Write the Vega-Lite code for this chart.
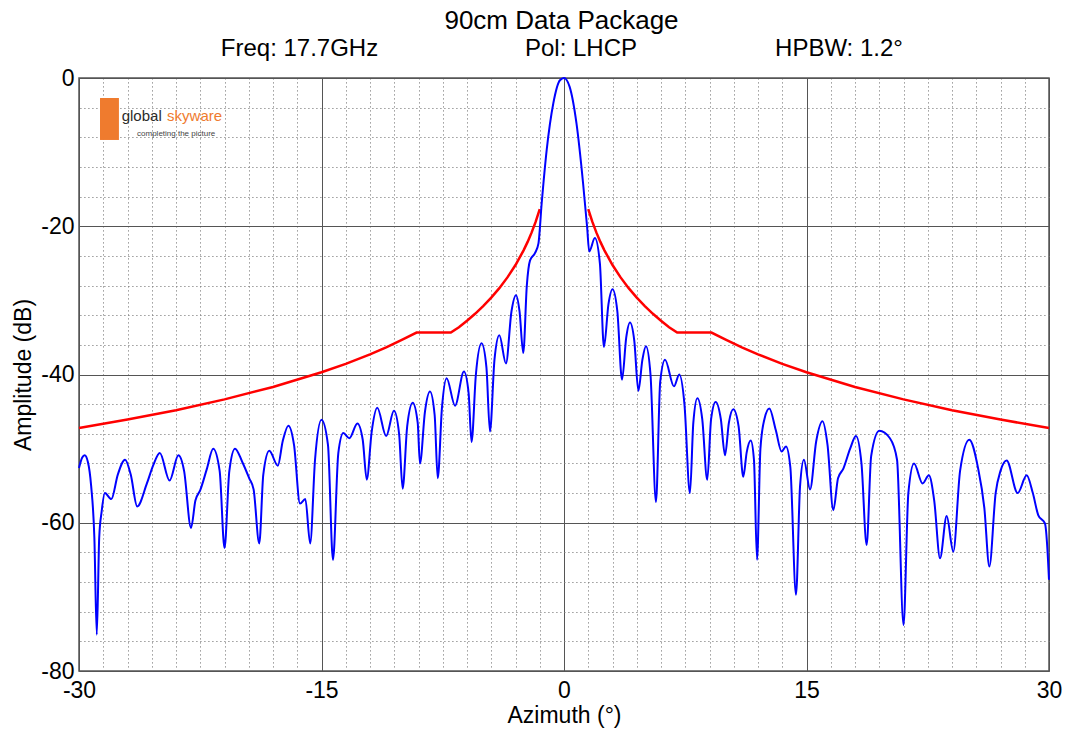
{
  "$schema": "https://vega.github.io/schema/vega-lite/v6.json",
  "width": 970,
  "height": 593,
  "autosize": {"type": "none"},
  "padding": {"left": 79, "top": 78, "right": 22, "bottom": 58},
  "background": "white",
  "config": {
    "font": "Liberation Sans",
    "view": {"stroke": "#555555", "strokeWidth": 1.5},
    "axis": {
      "labelFont": "Liberation Sans",
      "titleFont": "Liberation Sans",
      "labelFontSize": 23,
      "titleFontSize": 23,
      "titleFontWeight": "normal",
      "labelColor": "black",
      "titleColor": "black",
      "ticks": false,
      "tickSize": 0,
      "domain": false,
      "labelFlush": false,
      "labelOverlap": false
    }
  },
  "datasets": {
    "pattern": [
      {"az": -30.0, "amp": -52.6}, {"az": -29.8, "amp": -51.2}, {"az": -29.65, "amp": -50.9}, {"az": -29.45, "amp": -51.8},
      {"az": -29.25, "amp": -55.0}, {"az": -29.05, "amp": -62.0}, {"az": -28.9, "amp": -75.1}, {"az": -28.75, "amp": -62.0},
      {"az": -28.6, "amp": -58.5}, {"az": -28.4, "amp": -56.0}, {"az": -28.0, "amp": -56.8}, {"az": -27.6, "amp": -53.5},
      {"az": -27.15, "amp": -51.5}, {"az": -26.8, "amp": -53.5}, {"az": -26.4, "amp": -57.8}, {"az": -25.8, "amp": -54.7},
      {"az": -25.4, "amp": -52.2}, {"az": -25.0, "amp": -50.6}, {"az": -24.4, "amp": -54.3}, {"az": -23.85, "amp": -50.9},
      {"az": -23.5, "amp": -53.0}, {"az": -23.07, "amp": -60.7}, {"az": -22.8, "amp": -57.0}, {"az": -22.5, "amp": -55.6},
      {"az": -22.1, "amp": -52.8}, {"az": -21.7, "amp": -50.0}, {"az": -21.3, "amp": -53.0}, {"az": -21.0, "amp": -63.4},
      {"az": -20.7, "amp": -53.0}, {"az": -20.35, "amp": -50.0}, {"az": -19.9, "amp": -51.8}, {"az": -19.47, "amp": -54.0},
      {"az": -19.2, "amp": -55.5}, {"az": -18.85, "amp": -62.8}, {"az": -18.6, "amp": -53.5}, {"az": -18.23, "amp": -50.3},
      {"az": -17.7, "amp": -52.3}, {"az": -17.4, "amp": -49.0}, {"az": -17.05, "amp": -46.9}, {"az": -16.7, "amp": -49.5},
      {"az": -16.33, "amp": -57.4}, {"az": -16.0, "amp": -56.8}, {"az": -15.7, "amp": -62.8}, {"az": -15.4, "amp": -51.5},
      {"az": -15.0, "amp": -46.1}, {"az": -14.6, "amp": -49.5}, {"az": -14.29, "amp": -65.0}, {"az": -13.96, "amp": -50.6},
      {"az": -13.65, "amp": -47.9}, {"az": -13.28, "amp": -48.6}, {"az": -12.78, "amp": -46.6}, {"az": -12.45, "amp": -48.8},
      {"az": -12.2, "amp": -54.2}, {"az": -11.9, "amp": -47.8}, {"az": -11.55, "amp": -44.5}, {"az": -11.0, "amp": -48.3},
      {"az": -10.52, "amp": -44.9}, {"az": -10.2, "amp": -48.0}, {"az": -9.98, "amp": -55.4}, {"az": -9.7, "amp": -47.0},
      {"az": -9.36, "amp": -43.8}, {"az": -9.05, "amp": -46.5}, {"az": -8.91, "amp": -52.0}, {"az": -8.6, "amp": -45.0},
      {"az": -8.29, "amp": -42.3}, {"az": -8.0, "amp": -45.5}, {"az": -7.81, "amp": -54.0}, {"az": -7.55, "amp": -44.5},
      {"az": -7.26, "amp": -40.5}, {"az": -6.74, "amp": -44.2}, {"az": -6.19, "amp": -39.6}, {"az": -5.9, "amp": -42.5},
      {"az": -5.72, "amp": -49.1}, {"az": -5.45, "amp": -40.0}, {"az": -5.1, "amp": -35.8}, {"az": -4.8, "amp": -39.0},
      {"az": -4.58, "amp": -47.7}, {"az": -4.3, "amp": -38.0}, {"az": -4.0, "amp": -34.7}, {"az": -3.59, "amp": -38.5},
      {"az": -3.25, "amp": -31.5}, {"az": -2.97, "amp": -29.3}, {"az": -2.75, "amp": -31.5}, {"az": -2.52, "amp": -37.1},
      {"az": -2.3, "amp": -28.0}, {"az": -2.1, "amp": -24.6}, {"az": -1.79, "amp": -23.6}, {"az": -1.58, "amp": -22.3},
      {"az": -1.38, "amp": -16.9}, {"az": -1.07, "amp": -9.7}, {"az": -0.66, "amp": -3.4}, {"az": -0.25, "amp": -0.3},
      {"az": 0.0, "amp": 0.0}, {"az": 0.35, "amp": -1.2}, {"az": 0.77, "amp": -6.1}, {"az": 1.18, "amp": -14.2},
      {"az": 1.43, "amp": -20.1}, {"az": 1.56, "amp": -23.4}, {"az": 1.91, "amp": -21.6}, {"az": 2.22, "amp": -25.0},
      {"az": 2.47, "amp": -36.3}, {"az": 2.75, "amp": -30.5}, {"az": 3.0, "amp": -28.5}, {"az": 3.3, "amp": -31.5},
      {"az": 3.59, "amp": -40.7}, {"az": 3.85, "amp": -35.0}, {"az": 4.08, "amp": -33.0}, {"az": 4.35, "amp": -35.5},
      {"az": 4.6, "amp": -42.2}, {"az": 4.85, "amp": -38.0}, {"az": 5.07, "amp": -36.2}, {"az": 5.35, "amp": -40.0},
      {"az": 5.69, "amp": -57.2}, {"az": 5.95, "amp": -41.0}, {"az": 6.25, "amp": -38.0}, {"az": 6.8, "amp": -41.6},
      {"az": 7.13, "amp": -40.0}, {"az": 7.45, "amp": -44.0}, {"az": 7.79, "amp": -56.0}, {"az": 8.0, "amp": -46.5},
      {"az": 8.25, "amp": -43.2}, {"az": 8.55, "amp": -46.0}, {"az": 8.86, "amp": -54.2}, {"az": 9.1, "amp": -46.0},
      {"az": 9.38, "amp": -43.7}, {"az": 9.7, "amp": -46.0}, {"az": 9.96, "amp": -50.9}, {"az": 10.2, "amp": -46.5},
      {"az": 10.47, "amp": -44.7}, {"az": 10.8, "amp": -47.0}, {"az": 11.09, "amp": -53.8}, {"az": 11.3, "amp": -50.5},
      {"az": 11.55, "amp": -48.9}, {"az": 11.75, "amp": -51.5}, {"az": 11.94, "amp": -65.0}, {"az": 12.15, "amp": -50.0},
      {"az": 12.4, "amp": -46.0}, {"az": 12.7, "amp": -44.6}, {"az": 13.1, "amp": -47.5}, {"az": 13.46, "amp": -50.4},
      {"az": 13.73, "amp": -49.7}, {"az": 14.0, "amp": -52.5}, {"az": 14.35, "amp": -69.7}, {"az": 14.6, "amp": -55.1},
      {"az": 14.84, "amp": -51.5}, {"az": 15.22, "amp": -55.5}, {"az": 15.6, "amp": -49.0}, {"az": 15.99, "amp": -46.3},
      {"az": 16.3, "amp": -49.5}, {"az": 16.66, "amp": -58.3}, {"az": 16.95, "amp": -54.0}, {"az": 17.28, "amp": -52.7},
      {"az": 17.7, "amp": -50.0}, {"az": 18.06, "amp": -48.3}, {"az": 18.4, "amp": -52.0}, {"az": 18.72, "amp": -63.0},
      {"az": 19.0, "amp": -51.0}, {"az": 19.5, "amp": -47.6}, {"az": 20.16, "amp": -48.6}, {"az": 20.6, "amp": -51.5},
      {"az": 21.0, "amp": -73.8}, {"az": 21.3, "amp": -56.0}, {"az": 21.65, "amp": -52.0}, {"az": 22.18, "amp": -54.7},
      {"az": 22.57, "amp": -53.6}, {"az": 22.9, "amp": -57.0}, {"az": 23.26, "amp": -64.8}, {"az": 23.67, "amp": -59.1},
      {"az": 24.08, "amp": -63.9}, {"az": 24.5, "amp": -53.0}, {"az": 25.07, "amp": -48.8}, {"az": 25.6, "amp": -52.5},
      {"az": 26.0, "amp": -58.0}, {"az": 26.31, "amp": -65.9}, {"az": 26.7, "amp": -56.0}, {"az": 27.0, "amp": -53.0},
      {"az": 27.38, "amp": -51.6}, {"az": 28.06, "amp": -56.0}, {"az": 28.62, "amp": -53.6}, {"az": 29.0, "amp": -56.0},
      {"az": 29.34, "amp": -59.0}, {"az": 29.75, "amp": -60.1}, {"az": 29.9, "amp": -63.5}, {"az": 30.0, "amp": -67.7}
    ],
    "mask": [
      {"side": "L", "az": -30, "amp": -47.23}, {"side": "L", "az": -27, "amp": -46.08}, {"side": "L", "az": -24, "amp": -44.81},
      {"side": "L", "az": -21, "amp": -43.36}, {"side": "L", "az": -18, "amp": -41.68}, {"side": "L", "az": -15, "amp": -39.7},
      {"side": "L", "az": -13.5, "amp": -38.56}, {"side": "L", "az": -12, "amp": -37.28}, {"side": "L", "az": -11, "amp": -36.33},
      {"side": "L", "az": -10, "amp": -35.3}, {"side": "L", "az": -9.12, "amp": -34.35}, {"side": "L", "az": -7, "amp": -34.35},
      {"side": "L", "az": -6.5, "amp": -33.62}, {"side": "L", "az": -6, "amp": -32.75}, {"side": "L", "az": -5.5, "amp": -31.81},
      {"side": "L", "az": -5, "amp": -30.77}, {"side": "L", "az": -4.5, "amp": -29.63}, {"side": "L", "az": -4, "amp": -28.35},
      {"side": "L", "az": -3.5, "amp": -26.9}, {"side": "L", "az": -3, "amp": -25.23}, {"side": "L", "az": -2.5, "amp": -23.25},
      {"side": "L", "az": -2.25, "amp": -22.11}, {"side": "L", "az": -2, "amp": -20.83}, {"side": "L", "az": -1.75, "amp": -19.38},
      {"side": "L", "az": -1.5, "amp": -17.7},
      {"side": "R", "az": 1.5, "amp": -17.7}, {"side": "R", "az": 1.75, "amp": -19.38}, {"side": "R", "az": 2, "amp": -20.83},
      {"side": "R", "az": 2.25, "amp": -22.11}, {"side": "R", "az": 2.5, "amp": -23.25}, {"side": "R", "az": 3, "amp": -25.23},
      {"side": "R", "az": 3.5, "amp": -26.9}, {"side": "R", "az": 4, "amp": -28.35}, {"side": "R", "az": 4.5, "amp": -29.63},
      {"side": "R", "az": 5, "amp": -30.77}, {"side": "R", "az": 5.5, "amp": -31.81}, {"side": "R", "az": 6, "amp": -32.75},
      {"side": "R", "az": 6.5, "amp": -33.62}, {"side": "R", "az": 7, "amp": -34.35}, {"side": "R", "az": 9.12, "amp": -34.35},
      {"side": "R", "az": 10, "amp": -35.3}, {"side": "R", "az": 11, "amp": -36.33}, {"side": "R", "az": 12, "amp": -37.28},
      {"side": "R", "az": 13.5, "amp": -38.56}, {"side": "R", "az": 15, "amp": -39.7}, {"side": "R", "az": 18, "amp": -41.68},
      {"side": "R", "az": 21, "amp": -43.36}, {"side": "R", "az": 24, "amp": -44.81}, {"side": "R", "az": 27, "amp": -46.08},
      {"side": "R", "az": 30, "amp": -47.23}
    ],
    "annotations": [
      {"group": "title", "label": "90cm Data Package", "az": -0.155, "amp": 6.57},
      {"group": "sub", "label": "Freq: 17.7GHz", "az": -16.36, "amp": 2.97},
      {"group": "sub", "label": "Pol: LHCP", "az": 1.05, "amp": 2.97},
      {"group": "sub", "label": "HPBW: 1.2°", "az": 17.01, "amp": 2.97},
      {"group": "logo1", "label": "global", "az": -27.36, "amp": -5.8},
      {"group": "logo2", "label": "skyware", "az": -24.55, "amp": -5.8},
      {"group": "logo3", "label": "completing the picture", "az": -26.41, "amp": -7.85}
    ],
    "logobox": [
      {"az": -28.7, "az2": -27.53, "amp": -2.7, "amp2": -8.36}
    ]
  },
  "layer": [
    {
      "data": {"name": "mask"},
      "mark": {"type": "line", "color": "#ff0000", "strokeWidth": 2.5},
      "encoding": {
        "x": {
          "field": "az", "type": "quantitative",
          "scale": {"domain": [-30, 30], "nice": false, "zero": false},
          "axis": {
            "values": [-30, -15, 0, 15, 30],
            "grid": true, "gridColor": "#555555", "gridWidth": 1,
            "labelPadding": 8,
            "labelExpr": "replace(datum.label, '\u2212', '-')",
            "title": "Azimuth (°)", "titlePadding": 2
          }
        },
        "y": {
          "field": "amp", "type": "quantitative",
          "scale": {"domain": [-80, 0], "nice": false, "zero": false},
          "axis": {
            "values": [-80, -60, -40, -20, 0],
            "grid": true, "gridColor": "#555555", "gridWidth": 1,
            "labelPadding": 5,
            "labelExpr": "replace(datum.label, '\u2212', '-')",
            "title": "Amplitude (dB)", "titlePadding": 5
          }
        },
        "detail": {"field": "side", "type": "nominal"}
      }
    },
    {
      "data": {"name": "pattern"},
      "mark": {"type": "line", "color": "#0000ff", "strokeWidth": 2, "interpolate": "monotone"},
      "encoding": {
        "x": {
          "field": "az", "type": "quantitative",
          "scale": {"domain": [-30, 30], "nice": false, "zero": false},
          "axis": {
            "orient": "top",
            "values": [-28.5, -27, -25.5, -24, -22.5, -21, -19.5, -18, -16.5, -13.5, -12, -10.5, -9, -7.5, -6, -4.5, -3, -1.5, 1.5, 3, 4.5, 6, 7.5, 9, 10.5, 12, 13.5, 16.5, 18, 19.5, 21, 22.5, 24, 25.5, 27, 28.5],
            "grid": true, "gridColor": "#808080", "gridWidth": 1, "gridDash": [1.2, 2.8],
            "labels": false, "title": null
          }
        },
        "y": {
          "field": "amp", "type": "quantitative",
          "scale": {"domain": [-80, 0], "nice": false, "zero": false},
          "axis": {
            "orient": "right",
            "values": [-76, -72, -68, -64, -56, -52, -48, -44, -36, -32, -28, -24, -16, -12, -8, -4],
            "grid": true, "gridColor": "#808080", "gridWidth": 1, "gridDash": [1.2, 2.8],
            "labels": false, "title": null
          }
        }
      }
    },
    {
      "data": {"name": "logobox"},
      "mark": {"type": "rect", "color": "#ef7b2e"},
      "encoding": {
        "x": {"field": "az", "type": "quantitative", "scale": {"domain": [-30, 30], "nice": false, "zero": false}, "axis": null},
        "x2": {"field": "az2"},
        "y": {"field": "amp", "type": "quantitative", "scale": {"domain": [-80, 0], "nice": false, "zero": false}, "axis": null},
        "y2": {"field": "amp2"}
      }
    },
    {
      "data": {"name": "annotations"},
      "transform": [{"filter": "datum.group == 'title'"}],
      "mark": {"type": "text", "font": "Liberation Sans", "fontSize": 26, "align": "center", "baseline": "alphabetic", "color": "black"},
      "encoding": {
        "x": {"field": "az", "type": "quantitative", "scale": {"domain": [-30, 30], "nice": false, "zero": false}, "axis": null},
        "y": {"field": "amp", "type": "quantitative", "scale": {"domain": [-80, 0], "nice": false, "zero": false}, "axis": null},
        "text": {"field": "label"}
      }
    },
    {
      "data": {"name": "annotations"},
      "transform": [{"filter": "datum.group == 'sub'"}],
      "mark": {"type": "text", "font": "Liberation Sans", "fontSize": 24, "align": "center", "baseline": "alphabetic", "color": "black"},
      "encoding": {
        "x": {"field": "az", "type": "quantitative", "scale": {"domain": [-30, 30], "nice": false, "zero": false}, "axis": null},
        "y": {"field": "amp", "type": "quantitative", "scale": {"domain": [-80, 0], "nice": false, "zero": false}, "axis": null},
        "text": {"field": "label"}
      }
    },
    {
      "data": {"name": "annotations"},
      "transform": [{"filter": "datum.group == 'logo1'"}],
      "mark": {"type": "text", "font": "Liberation Sans", "fontSize": 15, "align": "left", "baseline": "alphabetic", "color": "#2b2b2b"},
      "encoding": {
        "x": {"field": "az", "type": "quantitative", "scale": {"domain": [-30, 30], "nice": false, "zero": false}, "axis": null},
        "y": {"field": "amp", "type": "quantitative", "scale": {"domain": [-80, 0], "nice": false, "zero": false}, "axis": null},
        "text": {"field": "label"}
      }
    },
    {
      "data": {"name": "annotations"},
      "transform": [{"filter": "datum.group == 'logo2'"}],
      "mark": {"type": "text", "font": "Liberation Sans", "fontSize": 15, "align": "left", "baseline": "alphabetic", "color": "#ef7b2e"},
      "encoding": {
        "x": {"field": "az", "type": "quantitative", "scale": {"domain": [-30, 30], "nice": false, "zero": false}, "axis": null},
        "y": {"field": "amp", "type": "quantitative", "scale": {"domain": [-80, 0], "nice": false, "zero": false}, "axis": null},
        "text": {"field": "label"}
      }
    },
    {
      "data": {"name": "annotations"},
      "transform": [{"filter": "datum.group == 'logo3'"}],
      "mark": {"type": "text", "font": "Liberation Sans", "fontSize": 8, "align": "left", "baseline": "alphabetic", "color": "#444444"},
      "encoding": {
        "x": {"field": "az", "type": "quantitative", "scale": {"domain": [-30, 30], "nice": false, "zero": false}, "axis": null},
        "y": {"field": "amp", "type": "quantitative", "scale": {"domain": [-80, 0], "nice": false, "zero": false}, "axis": null},
        "text": {"field": "label"}
      }
    }
  ],
  "resolve": {"axis": {"x": "independent", "y": "independent"}}
}
